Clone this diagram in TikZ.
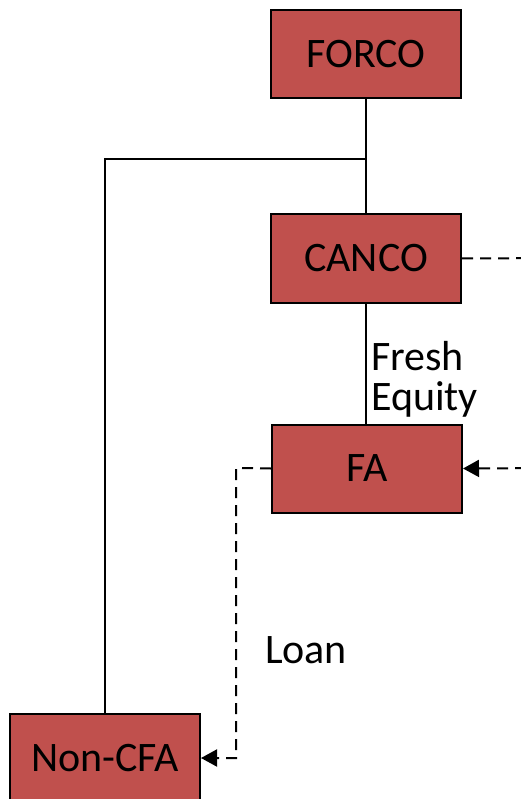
\documentclass[tikz,border=0pt]{standalone}
\usepackage{fontspec}
\setmainfont{Carlito}
\usetikzlibrary{arrows.meta}
\definecolor{boxred}{RGB}{192,80,77}
\begin{document}
\begin{tikzpicture}[x=1pt,y=-1pt,
  entity/.style={draw=black,line width=2pt,fill=boxred,minimum width=190pt,minimum height=88pt,inner sep=0pt,font=\fontsize{42}{42}\selectfont},
  link/.style={line width=1.6pt,black},
  dlink/.style={line width=2pt,black,dash pattern=on 11pt off 7pt},
  lbl/.style={font=\fontsize{42}{40}\selectfont,inner sep=0pt,align=left}]
\useasboundingbox (0,0) rectangle (520,799);
\node[entity] (forco) at (366,54) {FORCO};
\node[entity] (canco) at (366,258.5) {CANCO};
\node[entity] (fa) at (367,468.5) {FA};
\node[entity] (noncfa) at (105,758) {Non-CFA};
\coordinate (j) at (366,159);
\coordinate (jl) at (105,159);
\draw[link] (forco.south) -- (canco.north);
\draw[link] (j) -- (jl) -- (noncfa.north);
\draw[link] (canco.south) -- (fa.north -| canco.south);
\node[lbl,anchor=north west] (fresh) at (371,341) {Fresh\\Equity};
\coordinate (r1) at (560,258);
\coordinate (r2) at (560,468);
\draw[dlink,-{Triangle[length=16pt,width=17pt]}] (canco.east) -- (r1) -- (r2) -- (fa.east);
\coordinate (l1) at (236,468);
\coordinate (l2) at (236,758);
\draw[dlink,-{Triangle[length=16pt,width=17pt]}] (fa.west) -- (l1) -- (l2) -- (noncfa.east |- l2);
\node[lbl] (loan) at (306,650) {Loan};
\end{tikzpicture}
\end{document}
